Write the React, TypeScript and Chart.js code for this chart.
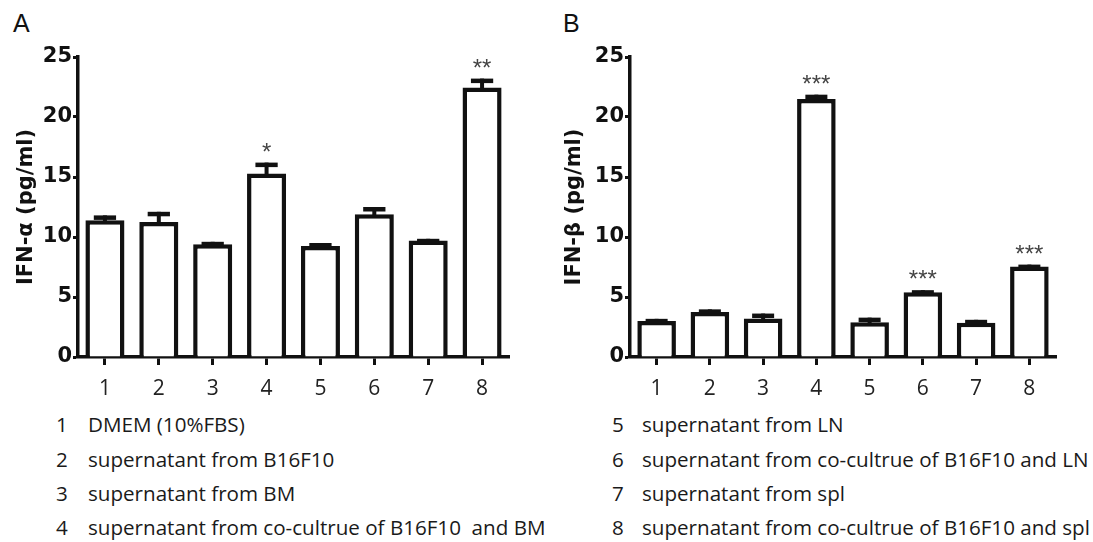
import React, { useEffect, useRef } from "react";
import { Chart, registerables } from "chart.js";

Chart.register(...registerables);

// ---- data ----
const categories = ["1", "2", "3", "4", "5", "6", "7", "8"];
const yTickValues = [0, 5, 10, 15, 20, 25];

const ifnAlpha = [11.4, 11.25, 9.4, 15.3, 9.25, 11.9, 9.7, 22.45];
const ifnAlphaErr = [0.4, 0.85, 0.2, 0.9, 0.25, 0.6, 0.15, 0.75];
const ifnAlphaSig = ["", "", "", "*", "", "", "", "**"];

const ifnBeta = [3.0, 3.75, 3.2, 21.5, 2.9, 5.4, 2.85, 7.55];
const ifnBetaErr = [0.18, 0.22, 0.42, 0.36, 0.38, 0.17, 0.25, 0.15];
const ifnBetaSig = ["", "", "", "***", "", "***", "", "***"];

const legendLeft = [
  ["1", "DMEM (10%FBS)"],
  ["2", "supernatant from B16F10"],
  ["3", "supernatant from BM"],
  ["4", "supernatant from co-cultrue of B16F10\u00a0 and BM"],
];
const legendRight = [
  ["5", "supernatant from LN"],
  ["6", "supernatant from co-cultrue of B16F10 and LN"],
  ["7", "supernatant from spl"],
  ["8", "supernatant from co-cultrue of B16F10 and spl"],
];

const INK = "#111";

function makeErrorPlugin(errors: number[], sig: string[]) {
  return {
    id: "errorBars",
    afterDatasetsDraw(chart: any) {
      const meta = chart.getDatasetMeta(0);
      const yScale = chart.scales.y;
      const data = chart.data.datasets[0].data as number[];
      const ctx = chart.ctx;
      ctx.save();
      meta.data.forEach((bar: any, i: number) => {
        const v = data[i];
        const top = yScale.getPixelForValue(v + errors[i]);
        const base = yScale.getPixelForValue(v);
        const x = bar.x;
        const w = bar.width;
        ctx.fillStyle = INK;
        ctx.fillRect(x - 2, top, 4, base - top + 2);
        const capW = w * 0.57;
        ctx.fillRect(x - capW / 2, top, capW, 4.5);
        if (sig[i]) {
          ctx.font = '24px "Liberation Sans"';
          ctx.fillStyle = "#444";
          ctx.textAlign = "center";
          ctx.textBaseline = "alphabetic";
          ctx.fillText(sig[i], x, top - 3);
        }
      });
      ctx.restore();
    },
  };
}

function Panel(props: {
  left: number;
  width: number;
  yWidth: number;
  values: number[];
  errors: number[];
  sig: string[];
  title: string;
  titlePad: number;
}) {
  const ref = useRef<HTMLCanvasElement | null>(null);
  useEffect(() => {
    if (!ref.current) return;
    const chart = new Chart(ref.current, {
      type: "bar",
      data: {
        labels: categories,
        datasets: [
          {
            data: props.values,
            backgroundColor: "#ffffff",
            borderColor: INK,
            borderWidth: 4.5,
            borderSkipped: "bottom",
            categoryPercentage: 1,
            barPercentage: 0.725,
          },
        ],
      },
      options: {
        responsive: false,
        maintainAspectRatio: false,
        animation: false,
        events: [],
        layout: { padding: { top: 57, right: 37, left: 0, bottom: 0 } },
        plugins: {
          legend: { display: false },
          tooltip: { enabled: false },
        },
        scales: {
          x: {
            grid: {
              display: true,
              drawOnChartArea: false,
              drawTicks: true,
              tickLength: 8,
              tickWidth: 3,
              tickColor: INK,
              offset: false,
            },
            border: { display: true, color: INK, width: 3.5 },
            ticks: {
              color: "#222",
              padding: 11,
              font: { family: '"Open Sans"', size: 21, weight: "normal" },
            },
            afterFit: (s: any) => {
              s.height = 53;
            },
          },
          y: {
            min: 0,
            max: 25,
            afterBuildTicks: (s: any) => {
              s.ticks = yTickValues.map((v) => ({ value: v }));
            },
            grid: {
              display: true,
              drawOnChartArea: false,
              drawTicks: true,
              tickLength: 5,
              tickWidth: 3,
              tickColor: INK,
            },
            border: { display: true, color: INK, width: 3.5 },
            ticks: {
              color: INK,
              padding: 1,
              font: { family: '"DejaVu Sans"', size: 21, weight: "bold" },
            },
            title: {
              display: true,
              text: props.title,
              color: INK,
              padding: { top: props.titlePad, bottom: 0 },
              font: { family: '"DejaVu Sans"', size: 21, weight: "bold" },
            },
            afterFit: (s: any) => {
              s.width = props.yWidth;
            },
          },
        },
      } as any,
      plugins: [makeErrorPlugin(props.errors, props.sig)],
    });
    return () => chart.destroy();
  }, []);
  return (
    <canvas
      ref={ref}
      width={props.width}
      height={410}
      style={{ position: "absolute", left: props.left, top: 0, width: props.width, height: 410 }}
    />
  );
}

const LEGEND_SIZE = 20.6;
const legendFont: React.CSSProperties = {
  position: "absolute",
  fontFamily: '"Open Sans"',
  fontSize: LEGEND_SIZE,
  lineHeight: `${LEGEND_SIZE}px`,
  color: "#1a1a1a",
  whiteSpace: "pre",
};

const baselines = [432, 467, 501, 535];
const baseOffset = (LEGEND_SIZE - LEGEND_SIZE * 1.362) / 2 + LEGEND_SIZE * 1.069;

function Legend(props: { items: string[][]; numLeft: number; textLeft: number }) {
  return (
    <>
      {props.items.map((it, i) => (
        <React.Fragment key={i}>
          <div style={{ ...legendFont, left: props.numLeft, top: baselines[i] - baseOffset }}>{it[0]}</div>
          <div style={{ ...legendFont, left: props.textLeft, top: baselines[i] - baseOffset }}>{it[1]}</div>
        </React.Fragment>
      ))}
    </>
  );
}

const panelLabel: React.CSSProperties = {
  position: "absolute",
  fontFamily: '"Liberation Sans"',
  fontSize: 25,
  lineHeight: "25px",
  color: "#111",
  top: 11,
};

export default function App() {
  return (
    <div
      style={{
        position: "absolute",
        left: 0,
        top: 0,
        width: 1093,
        height: 542,
        background: "#ffffff",
        overflow: "hidden",
      }}
    >
      <div style={{ ...panelLabel, left: 13 }}>A</div>
      <div style={{ ...panelLabel, left: 563 }}>B</div>
      <Panel
        left={0}
        width={546}
        yWidth={78}
        values={ifnAlpha}
        errors={ifnAlphaErr}
        sig={ifnAlphaSig}
        title="IFN-α (pg/ml)"
        titlePad={14}
      />
      <Panel
        left={546}
        width={547}
        yWidth={84}
        values={ifnBeta}
        errors={ifnBetaErr}
        sig={ifnBetaSig}
        title="IFN-β (pg/ml)"
        titlePad={16}
      />
      <Legend items={legendLeft} numLeft={56} textLeft={88} />
      <Legend items={legendRight} numLeft={612} textLeft={642} />
    </div>
  );
}
